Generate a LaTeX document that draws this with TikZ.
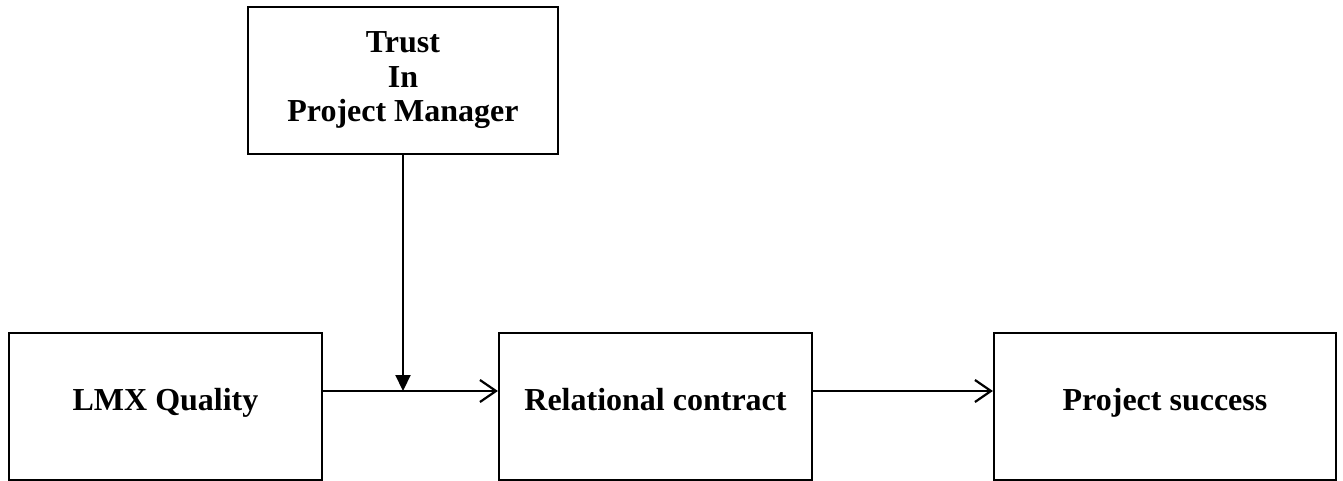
\documentclass[tikz,border=0pt]{standalone}
\usepackage{fontspec}
\setmainfont{Liberation Serif}
\usetikzlibrary{arrows.meta}

\tikzset{
  factor/.style={draw, line width=2.2pt, inner sep=0pt, align=center,
    font=\fontsize{32}{34.5}\selectfont\bfseries},
  oneline/.style={text height=22pt, text depth=15pt},
  path/.style={line width=2.2pt, -{Straight Barb[length=16pt,width=22pt,line width=2.2pt]}},
  moderate/.style={line width=2.2pt, -{Triangle[length=16pt,width=15pt]}}
}

\begin{document}
\begin{tikzpicture}[x=1pt,y=-1pt]
\useasboundingbox (0,0) rectangle (1343,481);

\node[factor, minimum width=310pt, minimum height=147pt] (trust) at (403,80.5) {Trust\\In\\Project Manager\rule[-7pt]{0pt}{0pt}};
\node[factor, oneline, minimum width=313pt, minimum height=147pt] (lmx) at (165.5,406.5) {LMX Quality};
\node[factor, oneline, minimum width=313pt, minimum height=147pt] (rel) at (655.5,406.5) {Relational contract};
\node[factor, oneline, minimum width=342pt, minimum height=147pt] (succ) at (1165,406.5) {Project success};

\coordinate (mid) at (trust.south |- 0,391);
\draw[path] (lmx.east |- mid) -- (rel.west |- mid);
\draw[path] (rel.east |- mid) -- (succ.west |- mid);
\draw[moderate] (trust.south) -- (mid);
\end{tikzpicture}
\end{document}
